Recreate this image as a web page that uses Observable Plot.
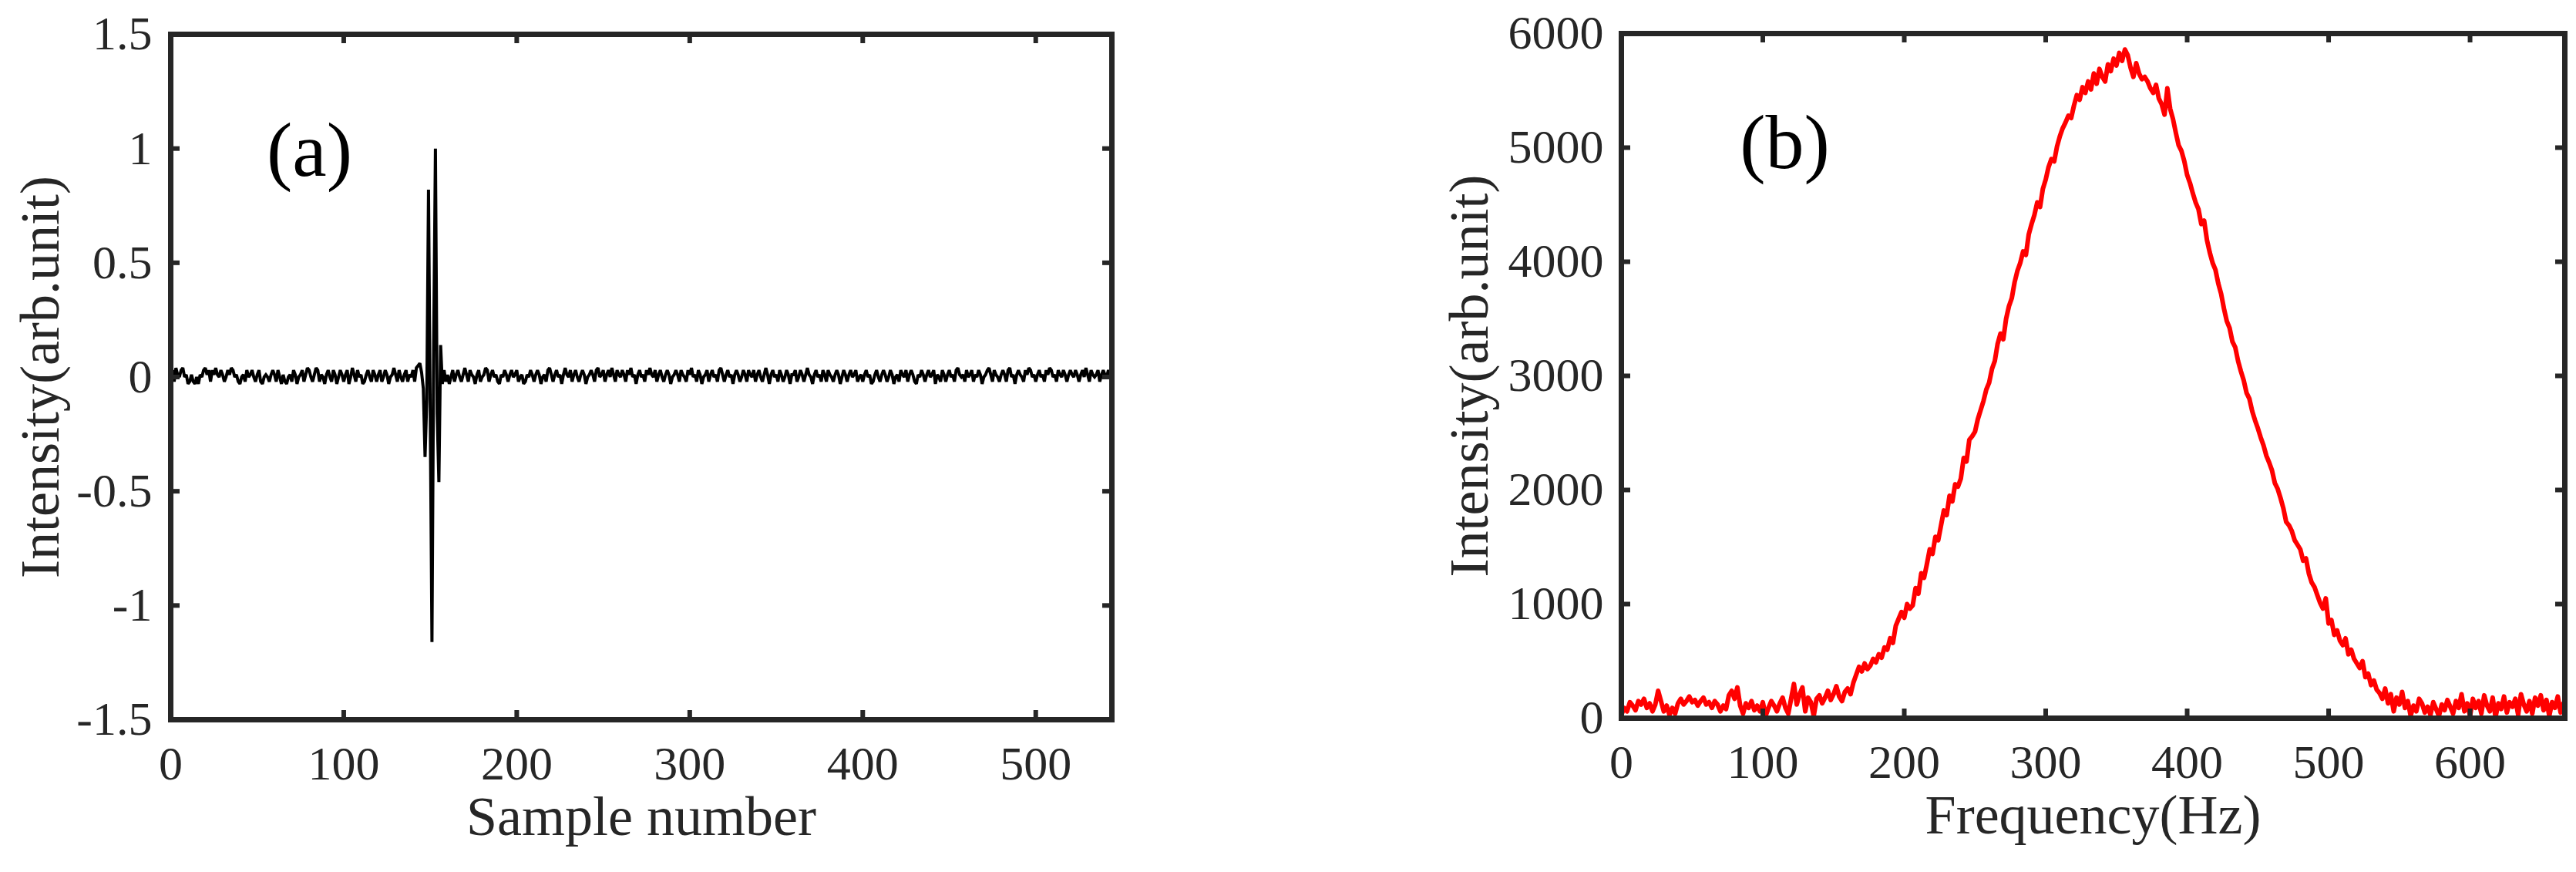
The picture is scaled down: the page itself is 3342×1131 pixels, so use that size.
<!DOCTYPE html>
<html>
<head>
<meta charset="utf-8">
<script src="https://cdn.jsdelivr.net/npm/d3@7"></script>
<script src="https://cdn.jsdelivr.net/npm/@observablehq/plot@0.6"></script>
<style>
html, body { margin: 0; padding: 0; background: #fff; }
#wrap { display: flex; width: 3342px; height: 1131px; overflow: hidden; background: #fff; }
#wrap svg { display: block; flex: none; }
</style>
</head>
<body>
<div id="wrap"></div>
<script>
// ---------- tick labels ----------
const sampleTicks = [0, 100, 200, 300, 400, 500];
const intensityTicksA = [-1.5, -1, -0.5, 0, 0.5, 1, 1.5];
const freqTicks = [0, 100, 200, 300, 400, 500, 600];
const intensityTicksB = [0, 1000, 2000, 3000, 4000, 5000, 6000];

// ---------- panel (a): intensity per sample number (sample 0..543) ----------
const intensityA = [
  .01,.03,-.02,.04,.01,0,.03,.04,0,.01,-.03,-.02,.01,-.02,-.03,0,-.03,.01,0,.03,
  .04,.01,.03,-.02,.03,.01,.04,.01,0,.03,.01,-.02,0,.03,.01,.04,.03,0,.01,-.02,
  -.03,0,.01,-.02,.03,0,.01,.03,0,-.02,.01,.03,-.02,-.03,0,.01,0,-.02,.01,.03,
  .01,-.02,.03,0,-.03,.01,-.02,-.03,0,.01,-.02,.03,.01,-.03,0,.01,.03,-.02,.01,.04,
  .03,0,-.02,.01,.04,.03,-.02,.01,0,-.03,.01,.03,0,-.02,.03,.01,-.03,0,.03,.01,
  -.02,.01,.03,-.03,0,.04,.01,-.02,.03,0,.01,-.03,-.02,.01,.03,0,-.02,.03,.01,-.02,
  .01,.03,-.02,0,.03,.01,-.03,0,.01,.04,.01,-.02,.03,0,-.02,.01,.03,-.02,.01,0,
  .03,-.02,.04,.05,.06,.02,-.05,-.35,-.1,.82,-.16,-1.16,.15,1.0,-.16,-.46,.14,-.03,.03,-.02,
  .01,-.03,0,.03,-.02,.01,.03,0,-.02,.01,.04,.01,-.02,.03,.01,0,-.03,.01,.03,-.02,
  0,.01,.04,.03,-.02,.01,.03,0,.01,-.02,-.03,.01,0,.03,.01,-.02,.01,.03,0,.01,
  .03,-.02,0,.01,-.03,-.02,.01,0,.03,.01,-.02,.01,.03,.01,-.03,0,.01,-.02,.03,.04,
  .01,-.02,.01,.03,0,.01,-.03,.01,.04,.01,0,.03,-.02,.01,.03,0,-.02,.01,.03,.01,
  -.03,0,.01,.03,.01,-.02,.03,.04,0,.01,.03,-.02,.01,.03,0,.04,.01,-.02,.03,.01,
  0,.03,.01,-.02,.03,.01,.04,0,.01,-.03,.01,.03,0,.01,-.02,.03,.01,.04,.01,0,
  .03,-.02,.01,.03,0,-.02,.01,.03,.01,-.03,0,.01,.03,.01,-.02,.03,.01,0,-.02,.03,
  .01,.04,0,.01,-.02,.03,.01,-.03,0,.01,.03,-.02,.01,.03,0,.01,-.02,.03,.04,.01,
  -.02,.01,.03,0,.01,-.03,.01,.03,.01,-.02,0,.03,.01,-.02,.03,.01,0,.03,-.02,.01,
  .03,0,-.02,.01,.04,.01,-.03,.01,.03,0,.01,-.02,.03,.01,-.02,0,.03,.01,-.03,.01,
  .01,.03,-.02,0,.03,.01,-.02,.01,.04,.01,0,-.03,.01,.03,0,.01,-.02,.03,.01,-.02,
  .03,.01,0,-.02,.01,.03,.01,-.03,0,.03,.01,-.02,.01,.03,0,.01,.03,-.02,0,.01,
  -.02,.01,.03,0,.01,-.03,-.02,.01,.03,0,-.02,.01,.03,.01,-.02,0,.03,.01,-.03,0,
  .01,-.02,.03,.01,0,.03,-.02,.01,.03,.01,-.02,-.03,.01,0,.03,.01,-.02,.01,.03,0,
  .01,.03,-.03,.01,0,-.02,.03,.01,-.02,.01,.03,0,.01,-.02,.03,.04,.01,0,.01,-.02,
  .03,0,.01,.03,-.02,.01,0,.03,.01,-.03,0,.01,.03,.04,.01,-.02,.03,.01,0,-.02,
  .01,.03,.01,-.02,.03,.04,0,.01,-.03,.01,.03,.01,0,-.02,.03,.01,.04,.03,0,.01,
  -.02,.01,.03,0,.01,-.02,.03,.01,.04,.03,0,.01,-.02,.03,.01,0,.03,.01,-.02,.01,
  .03,.01,0,.03,.01,-.02,.01,.03,0,.04,.01,-.02,.03,.01,0,.01,.03,-.02,.01,.03,
  .01,0,.03,.01
];

// ---------- panel (b): spectrum intensity, one value every 2 Hz (0..666 Hz) ----------
const freqStep = 2;
const intensityB = [
  30,90,60,140,110,70,150,120,170,90,130,60,120,240,150,60,110,30,90,40,130,170,120,150,190,
  140,160,110,150,180,120,140,90,150,120,60,110,80,200,240,170,270,110,40,130,90,150,70,110,60,
  140,20,90,150,110,60,130,180,90,40,170,300,120,210,270,60,180,140,20,170,200,130,180,240,160,
  210,280,190,150,230,260,210,310,380,450,410,480,430,460,520,490,560,530,620,600,700,660,810,870,930,
  880,1000,960,990,1140,1090,1270,1230,1350,1480,1440,1590,1560,1690,1820,1780,1950,1900,2050,2030,2100,2280,2250,2440,2470,
  2510,2620,2700,2780,2880,2940,3060,3130,3280,3370,3320,3500,3610,3680,3820,3920,3990,4090,4060,4240,4330,4410,4520,4480,4640,
  4720,4830,4900,4880,5010,5100,5170,5220,5280,5260,5370,5460,5420,5530,5480,5580,5510,5650,5560,5690,5620,5580,5730,5670,5780,
  5720,5830,5760,5860,5810,5700,5620,5740,5650,5600,5620,5580,5520,5480,5550,5430,5380,5290,5520,5340,5250,5130,5020,4970,4880,
  4760,4690,4600,4520,4460,4330,4360,4190,4080,3990,3930,3810,3720,3590,3480,3420,3300,3250,3130,3040,2960,2850,2800,2690,2610,
  2540,2460,2390,2300,2240,2170,2060,2010,1930,1840,1720,1690,1640,1560,1520,1480,1380,1400,1270,1190,1150,1080,1010,960,1050,
  830,860,730,770,680,640,700,560,600,520,480,440,500,360,390,290,330,250,220,170,260,130,210,60,180,
  120,230,90,150,20,110,60,170,130,50,100,30,140,80,20,120,70,160,100,40,150,90,210,60,130,
  20,170,90,150,40,200,110,60,180,10,130,80,190,50,140,100,170,30,210,120,60,150,40,180,110,
  200,70,160,20,140,90,190,50,130
];

// ---------- styling ----------
const FONT = "'Liberation Serif', 'Times New Roman', serif";
const INK = "#262626";
const W = 1671, H = 1131;
const TICK = 12;

// ---------- panel (a) ----------
const mA = {left: 221, right: 229, top: 44, bottom: 198};
const plotWA = W - mA.left - mA.right, plotHA = H - mA.top - mA.bottom;
const chartA = Plot.plot({
  width: W, height: H,
  marginLeft: mA.left, marginRight: mA.right, marginTop: mA.top, marginBottom: mA.bottom,
  style: {fontFamily: FONT, fontSize: "62px", color: INK, background: "#fff"},
  x: {domain: [0, 544]},
  y: {domain: [-1.5, 1.5]},
  marks: [
    Plot.line(intensityA, {x: (d, i) => i, y: d => d, stroke: "#000", strokeWidth: 4, strokeLinejoin: "miter", strokeMiterlimit: 2}),
    Plot.tickX(sampleTicks, {x: d => d, stroke: INK, strokeWidth: 6, insetTop: plotHA - TICK}),
    Plot.tickX(sampleTicks, {x: d => d, stroke: INK, strokeWidth: 6, insetBottom: plotHA - TICK}),
    Plot.tickY(intensityTicksA, {y: d => d, stroke: INK, strokeWidth: 6, insetRight: plotWA - TICK}),
    Plot.tickY(intensityTicksA, {y: d => d, stroke: INK, strokeWidth: 6, insetLeft: plotWA - TICK}),
    Plot.frame({stroke: INK, strokeWidth: 7}),
    Plot.axisX({ticks: sampleTicks, tickSize: 0, tickPadding: 33, label: null, tickFormat: d => String(d), fontSize: 62}),
    Plot.axisY({ticks: intensityTicksA, tickSize: 0, tickPadding: 24, label: null, tickFormat: d => String(d), fontSize: 62}),
    Plot.text(["Sample number"], {text: d => d, frameAnchor: "bottom", dy: 98, lineAnchor: "top", fontSize: 72, fill: INK}),
    Plot.text(["Intensity(arb.unit)"], {text: d => d, frameAnchor: "left", rotate: -90, dx: -169, textAnchor: "middle", lineAnchor: "middle", fontSize: 72, fill: INK}),
    Plot.text(["(a)"], {text: d => d, frameAnchor: "top-left", dx: 180, dy: 151, textAnchor: "middle", lineAnchor: "middle", fontSize: 100, fill: "#000"})
  ]
});

// ---------- panel (b) ----------
const mB = {left: 432, right: 15, top: 43, bottom: 200};
const plotWB = W - mB.left - mB.right, plotHB = H - mB.top - mB.bottom;
const chartB = Plot.plot({
  width: W, height: H,
  marginLeft: mB.left, marginRight: mB.right, marginTop: mB.top, marginBottom: mB.bottom,
  style: {fontFamily: FONT, fontSize: "62px", color: INK, background: "#fff"},
  x: {domain: [0, 667]},
  y: {domain: [0, 6000]},
  marks: [
    Plot.line(intensityB, {x: (d, i) => i * freqStep, y: d => d, stroke: "#ff0000", strokeWidth: 6}),
    Plot.tickX(freqTicks, {x: d => d, stroke: INK, strokeWidth: 6, insetTop: plotHB - TICK}),
    Plot.tickX(freqTicks, {x: d => d, stroke: INK, strokeWidth: 6, insetBottom: plotHB - TICK}),
    Plot.tickY(intensityTicksB, {y: d => d, stroke: INK, strokeWidth: 6, insetRight: plotWB - TICK}),
    Plot.tickY(intensityTicksB, {y: d => d, stroke: INK, strokeWidth: 6, insetLeft: plotWB - TICK}),
    Plot.frame({stroke: INK, strokeWidth: 7}),
    Plot.axisX({ticks: freqTicks, tickSize: 0, tickPadding: 33, label: null, tickFormat: d => String(d), fontSize: 62}),
    Plot.axisY({ticks: intensityTicksB, tickSize: 0, tickPadding: 23, label: null, tickFormat: d => String(d), fontSize: 62}),
    Plot.text(["Frequency(Hz)"], {text: d => d, frameAnchor: "bottom", dy: 98, lineAnchor: "top", fontSize: 72, fill: INK}),
    Plot.text(["Intensity(arb.unit)"], {text: d => d, frameAnchor: "left", rotate: -90, dx: -197, textAnchor: "middle", lineAnchor: "middle", fontSize: 72, fill: INK}),
    Plot.text(["(b)"], {text: d => d, frameAnchor: "top-left", dx: 212, dy: 142, textAnchor: "middle", lineAnchor: "middle", fontSize: 100, fill: "#000"})
  ]
});

const wrap = document.getElementById("wrap");
wrap.appendChild(chartA);
wrap.appendChild(chartB);
</script>
</body>
</html>
